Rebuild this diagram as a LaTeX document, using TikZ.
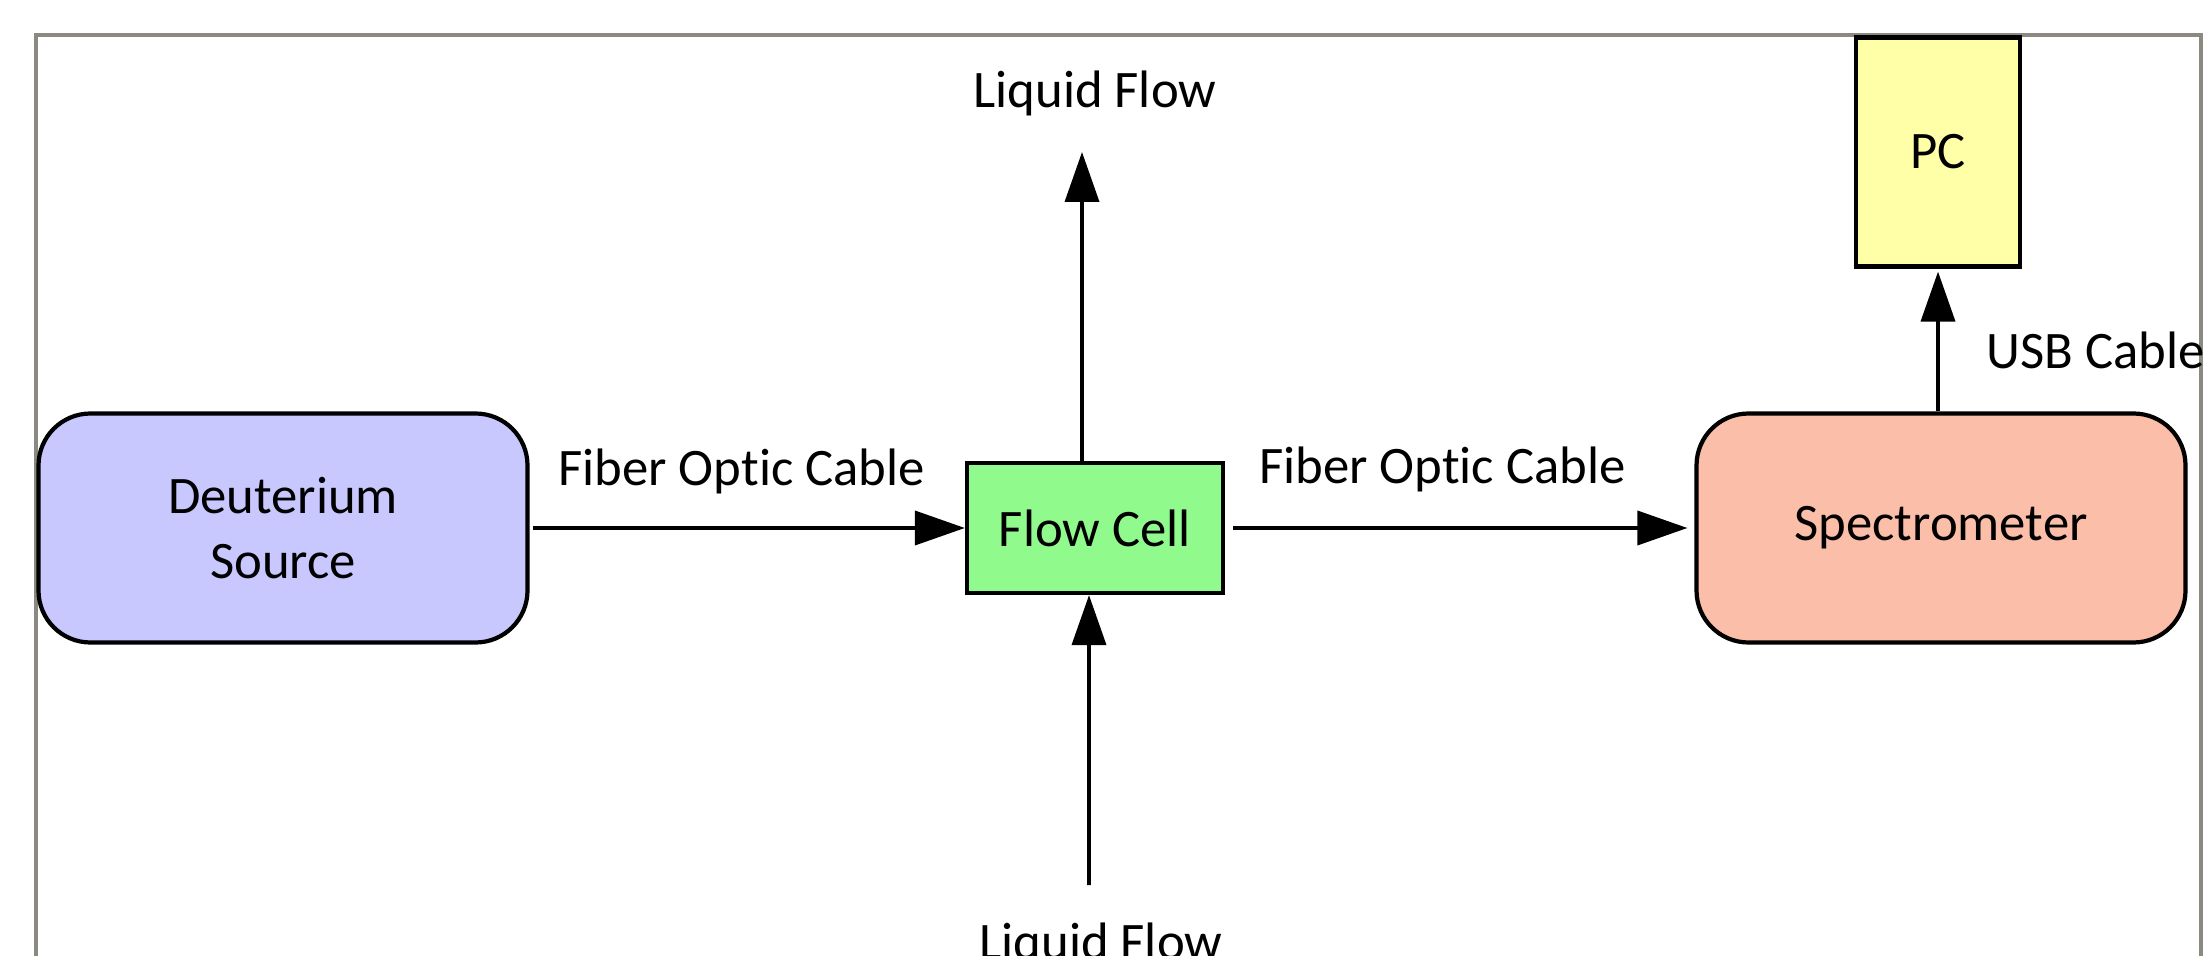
\documentclass[tikz,border=0pt]{standalone}
\usepackage{fontspec}
\setmainfont{Carlito}[Ligatures=NoCommon]
\usetikzlibrary{arrows.meta}
\definecolor{framegray}{HTML}{8C8882}
\definecolor{lavender}{HTML}{C8C8FF}
\definecolor{mint}{HTML}{90FA8C}
\definecolor{salmon}{HTML}{FBBEA8}
\definecolor{paleyellow}{HTML}{FFFFA8}
\tikzset{
  >={Triangle[length=5mm,width=3.4mm]},
  font=\fontsize{15}{18.5}\selectfont,
  blockbox/.style={
    draw=black,
    line width=1.2pt,
    fill=#1,
    align=center,
    inner sep=0pt,
  },
  roundbox/.style={
    blockbox=#1,
    rounded corners=5.2mm,
    minimum width=4.89cm,
    minimum height=2.29cm,
  },
  flowline/.style={->, line width=1.05pt},
  cabletag/.style={inner sep=0pt},
}

\begin{document}
\begin{tikzpicture}[x=1cm,y=1cm]
  \clip (0,0) rectangle (22.03,9.55);
  \fill[white] (0,0) rectangle (22.03,9.55);
  \draw[framegray, line width=0.9pt] (0.36,-0.2) -- (0.36,9.20) -- (22.01,9.20) -- (22.01,-0.2);

  % Units along the optical path
  \node[roundbox=lavender] (source) at (2.83,4.27) {Deuterium\\Source};
  \node[blockbox=mint, minimum width=2.56cm, minimum height=1.30cm] (flow) at (10.95,4.27) {Flow Cell};
  \node[roundbox=salmon] (spectro) at (19.41,4.27) {Spectrometer};
  \node[blockbox=paleyellow, minimum width=1.64cm, minimum height=2.29cm] (pc) at (19.38,8.03) {PC};

  % Free ends of the liquid line
  \coordinate (outlet) at (10.82,8.03);
  \coordinate (inlet) at (10.89,0.70);

  \draw[flowline, shorten <=0.3mm] (source.east) -- (flow.west)
    node[cabletag, pos=0.487, anchor=base, yshift=4.3mm] {Fiber Optic Cable};
  \draw[flowline, shorten <=0.8mm, shorten >=0.7mm] (flow.east) -- (spectro.west)
    node[cabletag, pos=0.463, anchor=base, yshift=4.4mm] {Fiber Optic Cable};
  \draw[flowline] ([xshift=-1.3mm]flow.north) -- (outlet)
    node[cabletag, anchor=base, xshift=1.3mm, yshift=4.4mm] {Liquid Flow};
  \draw[flowline] (inlet) -- ([xshift=-0.6mm]flow.south);
  \node[cabletag, anchor=base] (inlettag) at (11.01,-0.04) {Liquid Flow};
  \draw[flowline, shorten >=0.3mm] (pc.south |- spectro.north) -- (pc.south)
    node[cabletag, pos=0.30, anchor=base west, xshift=4.7mm] {USB Cable};
\end{tikzpicture}
\end{document}
